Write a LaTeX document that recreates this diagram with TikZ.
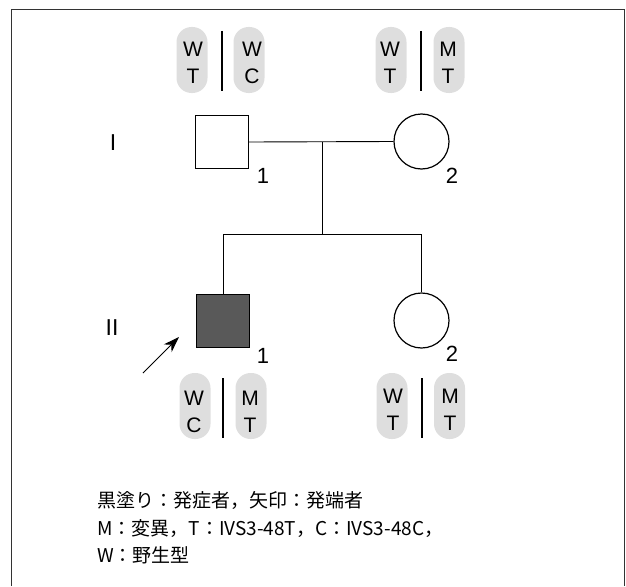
\documentclass[tikz,border=0pt]{standalone}
\usepackage{fontspec}
\setmainfont{Liberation Sans}
\newfontfamily\cjk{Noto Sans CJK JP}
\usetikzlibrary{arrows.meta}
\begin{document}
\begin{tikzpicture}[x=1pt,y=-1pt,
  sq/.style={draw,line width=1.2pt,rectangle,minimum size=53pt,inner sep=0pt},
  ci/.style={draw,line width=1.2pt,circle,minimum size=55pt,inner sep=0pt},
  link/.style={line width=0.9pt},
  blob/.style={fill=black!13,draw=none,rounded corners=15pt,minimum width=31pt,minimum height=66pt,inner sep=0pt},
  gt/.style={font=\fontsize{21}{24}\selectfont,anchor=base,inner sep=0pt},
  num/.style={font=\fontsize{22}{24}\selectfont,anchor=base,inner sep=0pt},
  gen/.style={font=\fontsize{23}{24}\selectfont,anchor=base,inner sep=0pt},
  divider/.style={line width=1.2pt},
  legend/.style={font=\cjk\fontsize{19}{22}\selectfont,anchor=base west,inner sep=0pt}]
\useasboundingbox (0,0) rectangle (626,586);
% frame
\draw[line width=0.8pt,black!80] (11,586) -- (11,9.5) -- (624.5,9.5) -- (624.5,586);

% generation labels
\node[gen] (gI) at (113,150) {I};
\node[gen] (gII) at (112,335) {II};

% individuals
\node[sq] (i1) at (222,142) {};
\node[ci] (i2) at (421.5,141.5) {};
\node[sq,fill=black!65] (ii1) at (223,321) {};
\node[ci] (ii2) at (421.5,320.5) {};

\node[num] (n11) at (263,183) {1};
\node[num] (n12) at (452,183) {2};
\node[num] (n21) at (263,363) {1};
\node[num] (n22) at (452,361) {2};

% connectors
\coordinate (mate) at (322,142);
\coordinate (sib) at (322,234);
\coordinate (sibL) at (223,234);
\coordinate (sibR) at (421.5,234);
\draw[link] (i1.east) -- (i2.west);
\draw[link] (mate) -- (sib);
\draw[link] (sibL) -- (sibR);
\draw[link] (sibL) -- (ii1.north);
\draw[link] (sibR) -- (ii2.north);

% proband arrow
\coordinate (arrS) at (143,373);
\coordinate (arrE) at (179,337);
\draw[line width=1pt,-{Stealth[length=16pt,width=11pt]}] (arrS) -- (arrE);

% genotypes I-1
\node[blob] (b1a) at (192,60) {};
\node[blob] (b1b) at (249,60) {};
\draw[divider] (222,31) -- (222,91);
\node[gt] (g1a) at (193,56.5) {W};
\node[gt] (g1b) at (193,83) {T};
\node[gt] (g1c) at (252,56.5) {W};
\node[gt] (g1d) at (252,83) {C};

% genotypes I-2
\node[blob] (b2a) at (391,60) {};
\node[blob] (b2b) at (449,60) {};
\draw[divider] (421,31) -- (421,91);
\node[gt] (g2a) at (390,56.5) {W};
\node[gt] (g2b) at (390,83) {T};
\node[gt] (g2c) at (448,56.5) {M};
\node[gt] (g2d) at (448,83) {T};

% genotypes II-1
\node[blob] (b3a) at (195,406) {};
\node[blob] (b3b) at (251,406) {};
\draw[divider] (223,378) -- (223,438);
\node[gt] (g3a) at (194,405) {W};
\node[gt] (g3b) at (194,432) {C};
\node[gt] (g3c) at (250,405) {M};
\node[gt] (g3d) at (250,432) {T};

% genotypes II-2
\node[blob] (b4a) at (392,406) {};
\node[blob] (b4b) at (449.5,406) {};
\draw[divider] (422,378) -- (422,438);
\node[gt] (g4a) at (393,403) {W};
\node[gt] (g4b) at (393,430) {T};
\node[gt] (g4c) at (450,403) {M};
\node[gt] (g4d) at (450,430) {T};

% legend
\node[legend] (l1) at (97,507) {黒塗り：発症者，矢印：発端者};
\node[legend] (l2) at (97,535) {M：変異，T：IVS3-48T，C：IVS3-48C，};
\node[legend] (l3) at (97,562) {W：野生型};
\end{tikzpicture}
\end{document}
